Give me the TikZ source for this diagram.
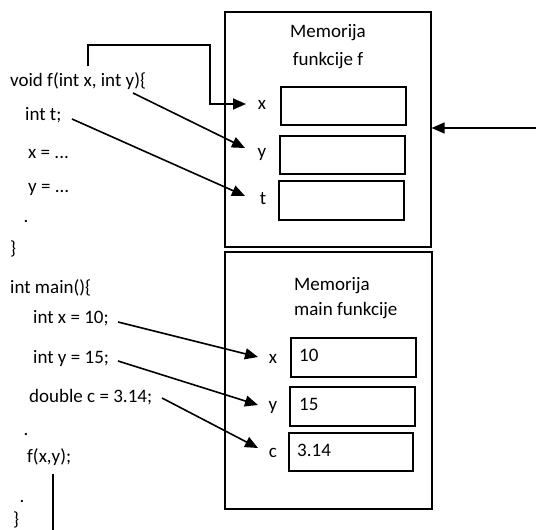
\documentclass[tikz,border=0pt]{standalone}
\usepackage{fontspec}
\setmainfont{Carlito}
\usetikzlibrary{arrows.meta}
\begin{document}
\begin{tikzpicture}[x=1pt,y=-1pt,
  txt/.style={inner sep=0pt,font=\fontsize{19}{23}\selectfont,text height=13pt,text depth=4pt},
  code/.style={txt,anchor=west},
  dotmark/.style={inner sep=0pt,font=\fontsize{19}{23}\selectfont,anchor=base},
  frame/.style={draw,line width=1.2pt,inner sep=0pt},
  slot/.style={draw,line width=1.2pt,inner sep=0pt,minimum width=125pt},
  title/.style={inner sep=0pt},
  conn/.style={line width=1.6pt,-{Triangle[length=13pt,width=11pt]}},
  plain/.style={line width=1.6pt},
]
\useasboundingbox (0,0) rectangle (536,530);
% code text
\node[code] (c1) at (10,82) {void f(int x, int y)\{};
\node[code] (c2) at (25,116) {int t;};
\node[code] (c3) at (28,154) {x = ...};
\node[code] (c4) at (28,188) {y = ...};
\node[dotmark] (d1) at (26,222) {.};
\node[code] (c5) at (10,250) {\}};
\node[code] (c6) at (10,289) {int main()\{};
\node[code] (c7) at (33,319) {int x = 10;};
\node[code] (c8) at (33,359) {int y = 15;};
\node[code] (c9) at (29,398) {double c = 3.14;};
\node[dotmark] (d2) at (26,435) {.};
\node[code] (c10) at (27,458) {f(x,y);};
\node[dotmark] (d3) at (22,502) {.};
\node[code] (c11) at (13,521) {\}};
% memory frames
\node[frame,minimum width=206pt,minimum height=235pt] (fmem) at (328,129.5) {};
\node[frame,minimum width=207pt,minimum height=257pt] (mmem) at (328.5,380.5) {};
\node[title,align=center,font=\fontsize{19}{28}\selectfont] (ftitle) at (328,47) {Memorija\\funkcije f};
\node[title,align=left,anchor=north west,font=\fontsize{19}{25}\selectfont] (mtitle) at (294,277) {Memorija\\main funkcije};
% f slots
\node[slot,minimum height=38pt] (fx) at (343.5,106) {};
\node[slot,minimum height=38pt] (fy) at (342.5,155) {};
\node[slot,minimum height=39pt] (fz) at (341.5,200.5) {};
\node[txt] (lfx) at (262,105) {x};
\node[txt] (lfy) at (262,153) {y};
\node[txt] (lft) at (263,200) {t};
% main slots
\node[slot,minimum height=39pt] (mx) at (353.5,357.5) {};
\node[slot,minimum height=39pt] (my) at (352.5,406.5) {};
\node[slot,minimum height=38pt,minimum width=124pt] (mc) at (351,452) {};
\node[txt] (lmx) at (273,359) {x};
\node[txt] (lmy) at (273,406) {y};
\node[txt] (lmc) at (273,453) {c};
\node[code] (vx) at (299,357) {10};
\node[code] (vy) at (299,406) {15};
\node[code] (vc) at (297,452) {3.14};
% connectors
\coordinate (s1) at (133,93);
\coordinate (t1) at (245,148);
\coordinate (s2) at (72,119);
\coordinate (t2) at (245,196);
\coordinate (s3) at (118,322);
\coordinate (t3) at (258,357);
\coordinate (s4) at (118,361);
\coordinate (t4) at (258,405);
\coordinate (s5) at (162,398);
\coordinate (t5) at (258,448);
\coordinate (b0) at (88,66);
\coordinate (b1) at (246,104);
\coordinate (r0) at (536,128);
\coordinate (v0) at (53,474);
\coordinate (v1) at (53,530);
\draw[conn] (s1) -- (t1);
\draw[conn] (s2) -- (t2);
\draw[conn] (s3) -- (t3);
\draw[conn] (s4) -- (t4);
\draw[conn] (s5) -- (t5);
\draw[conn] (b0) -- (88,45) -- (210,45) -- (210,104) -- (b1);
\draw[conn] (r0) -- (fmem.east |- r0);
\draw[plain] (v0) -- (v1);
\end{tikzpicture}
\end{document}
